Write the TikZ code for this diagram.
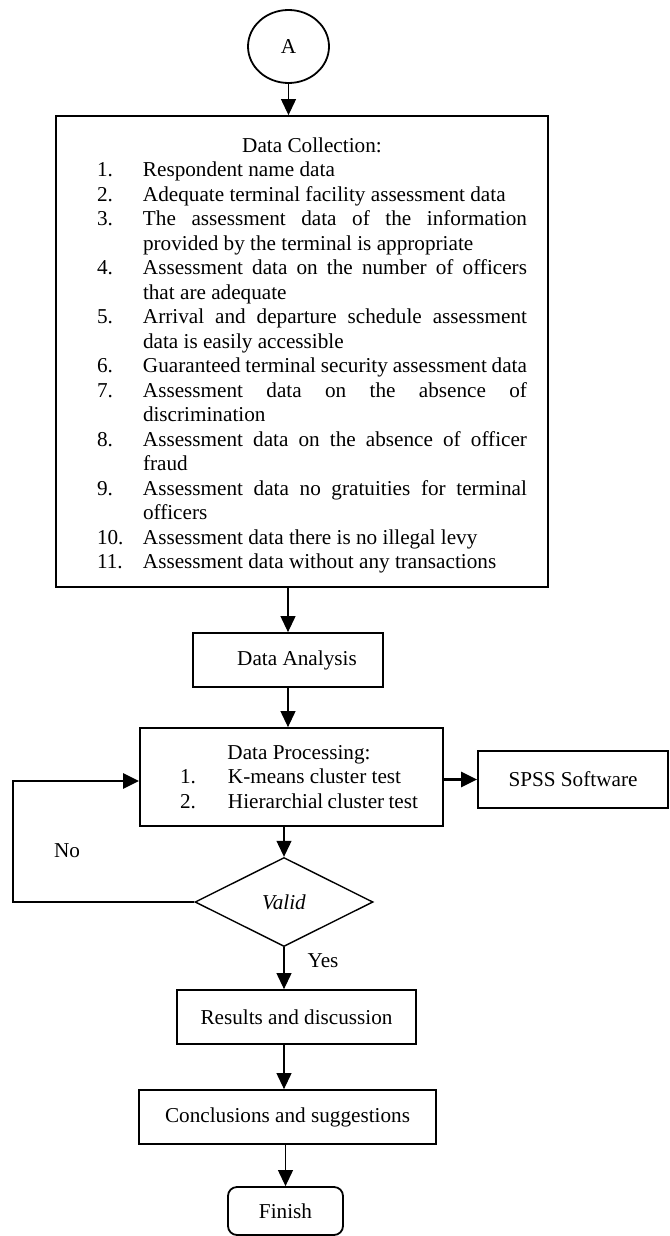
\documentclass[tikz,border=0pt]{standalone}
\usepackage{fontspec}
\setmainfont{Liberation Serif}
\usetikzlibrary{shapes.geometric,arrows.meta}
\newcommand{\dcitem}[2]{\makebox[46pt][l]{#1}#2\\}
\newcommand{\dcjust}[2]{\makebox[46pt][l]{#1}\makebox[384pt][s]{#2}\\}
\newcommand{\dccont}[1]{\hspace*{46pt}#1\\}
\begin{document}
\begin{tikzpicture}[x=1pt,y=-1pt,
  every node/.style={font=\fontsize{21.2}{24.5}\selectfont, inner sep=0pt},
  proc/.style={draw, line width=1.8pt, inner sep=0pt},
  arr/.style={-{Triangle[length=16pt,width=15pt]}, line width=1.1pt},
  thickarr/.style={-{Triangle[length=16pt,width=15pt]}, line width=2.4pt}]
\useasboundingbox (0,0) rectangle (669,1236);

\node[draw, ellipse, line width=1.8pt, minimum width=81pt, minimum height=73pt] (a) at (288.5,46.5) {A};

\node[proc, minimum width=492pt, minimum height=471pt] (dc) at (302,351.5) {\parbox{492pt}{\vspace*{8pt}\leftskip=41pt \rightskip=21pt
\makebox[430pt]{Data Collection:}\\
\dcitem{1.}{Respondent name data}
\dcitem{2.}{Adequate terminal facility assessment data}
\dcjust{3.}{The assessment data of the information}
\dccont{provided by the terminal is appropriate}
\dcjust{4.}{Assessment data on the number of officers}
\dccont{that are adequate}
\dcjust{5.}{Arrival and departure schedule assessment}
\dccont{data is easily accessible}
\dcjust{6.}{Guaranteed terminal security assessment data}
\dcjust{7.}{Assessment data on the absence of}
\dccont{discrimination}
\dcjust{8.}{Assessment data on the absence of officer}
\dccont{fraud}
\dcjust{9.}{Assessment data no gratuities for terminal}
\dccont{officers}
\dcitem{10.}{Assessment data there is no illegal levy}
\makebox[46pt][l]{11.}Assessment data without any transactions}};

\node[proc, minimum width=190pt, minimum height=54pt] (da) at (288,660) {\hspace*{18pt}Data Analysis};

\node[proc, minimum width=303pt, minimum height=98pt] (dp) at (291.5,777) {\hspace*{15pt}\parbox{238pt}{\makebox[238pt]{Data Processing:}\\
\makebox[48pt][l]{1.}K-means cluster test\\
\makebox[48pt][l]{2.}Hierarchial cluster test}};

\node[proc, minimum width=190pt, minimum height=57pt] (spss) at (573,779.5) {SPSS Software};

\node[draw, diamond, line width=1.4pt, minimum width=178pt, minimum height=89pt] (valid) at (284,902) {\itshape Valid};

\node[proc, minimum width=239pt, minimum height=54pt] (res) at (296.5,1017) {Results and discussion};
\node[proc, minimum width=297pt, minimum height=54pt] (conc) at (287.5,1117) {Conclusions and suggestions};
\node[proc, rounded corners=9pt, minimum width=115pt, minimum height=48pt] (fin) at (285.5,1211) {Finish};

\node (no) at (67,851) {No};
\node (yes) at (323,961) {Yes};

\coordinate (loopx) at (13,902);

\draw[arr] (a.south) -- (a.south |- dc.north);
\draw[arr] (da.north |- dc.south) -- (da.north);
\draw[arr] (da.south) -- (da.south |- dp.north);
\draw[arr] (valid.north |- dp.south) -- (valid.north);
\draw[thickarr] (dp.east |- spss.west) -- (spss.west);
\draw[thickarr] (valid.west) -- (loopx) |- ([yshift=-4pt]dp.west);
\draw[arr] (valid.south) -- (valid.south |- res.north);
\draw[arr] (valid.south |- res.south) -- (valid.south |- conc.north);
\draw[arr] (fin.north |- conc.south) -- (fin.north);
\end{tikzpicture}
\end{document}
